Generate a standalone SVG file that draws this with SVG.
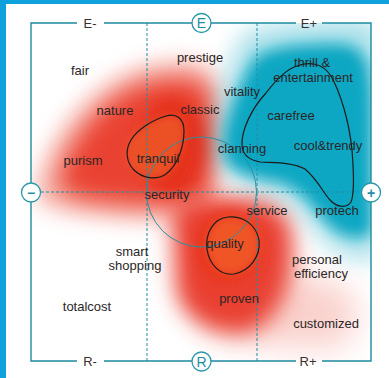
<svg xmlns="http://www.w3.org/2000/svg" width="389" height="378" viewBox="0 0 389 378">
  <style>
    .lbl { font-family: "Liberation Sans", Arial, sans-serif; font-size: 13px; fill: #2b2626; text-anchor: middle; }
    .axis { font-family: "Liberation Sans", Arial, sans-serif; font-size: 13px; fill: #3a2f2f; text-anchor: middle; }
    .frame { stroke: #1d8a9e; stroke-width: 1.4; fill: none; }
    .dash { stroke: #1f8fa6; stroke-width: 1; stroke-dasharray: 3 2; fill: none; }
    .ring { stroke: #2d8f9f; stroke-width: 1; fill: none; }
    .outline { stroke: #1b1b1b; stroke-width: 1.2; fill: none; }
    .badge circle { fill: #ffffff; stroke: #2a98ab; stroke-width: 1.3; }
    .badge text { font-family: "Liberation Sans", Arial, sans-serif; font-size: 14px; fill: #1f8ea4; text-anchor: middle; }
  </style>
  <defs>
    <clipPath id="plot"><rect x="31" y="23" width="340" height="338"/></clipPath>
    <filter id="b16" x="-60%" y="-60%" width="220%" height="220%"><feGaussianBlur stdDeviation="16"/></filter>
    <filter id="b11" x="-60%" y="-60%" width="220%" height="220%"><feGaussianBlur stdDeviation="11"/></filter>
    <filter id="b7" x="-60%" y="-60%" width="220%" height="220%"><feGaussianBlur stdDeviation="7"/></filter>
    <filter id="b4" x="-60%" y="-60%" width="220%" height="220%"><feGaussianBlur stdDeviation="4"/></filter>
  </defs>

  <!-- page and frame band -->
  <rect x="0" y="0" width="389" height="378" fill="#0ea1dc"/>
  <rect x="6" y="4" width="383" height="374" fill="#ffffff"/>

  <!-- density fields -->
  <g id="heat" clip-path="url(#plot)">
    <!-- emotional cluster (red, upper left) -->
    <path d="M36,192 C42,150 78,100 118,78 C150,60 192,56 212,70 C222,96 218,160 214,205 C190,222 150,222 100,216 C62,212 34,206 36,192 Z" fill="#f28c80" opacity="0.7" filter="url(#b11)"/>
    <path d="M60,180 C68,145 96,108 130,90 C160,76 196,76 208,90 C214,116 212,165 208,196 C185,206 150,206 110,202 C78,198 58,194 60,180 Z" fill="#ea4233" filter="url(#b11)"/>
    <ellipse cx="172" cy="146" rx="32" ry="48" fill="#e5301f" filter="url(#b7)"/>
    <!-- rational cluster (red, lower middle) -->
    <path d="M205,270 C235,262 300,268 345,288 C365,305 360,345 330,348 C290,348 230,345 205,325 Z" fill="#f6b2aa" opacity="0.6" filter="url(#b16)"/>
    <path d="M172,215 C176,200 200,196 240,198 C278,200 294,215 293,250 C290,290 280,318 250,332 C215,338 182,320 176,290 Z" fill="#e94030" filter="url(#b11)"/>
    <ellipse cx="228" cy="248" rx="32" ry="36" fill="#e8361f" filter="url(#b7)"/>
    <!-- lifestyle cluster (teal, upper right) -->
    <path d="M212,150 C210,115 228,70 240,38 C258,20 340,18 372,20 L380,30 L380,258 C360,266 335,254 318,236 C302,215 292,200 270,193 C245,186 215,180 212,150 Z" fill="#08a7c3" opacity="0.35" filter="url(#b11)"/>
    <path d="M224,150 C224,120 238,90 250,66 C258,48 290,44 340,44 C368,46 372,66 372,120 L372,232 C360,242 340,238 326,222 C313,207 302,190 282,183 C258,177 226,176 224,150 Z" fill="#08a7c3" filter="url(#b7)"/>
    <!-- inner cores -->
    <path d="M166,116 C176,113 184,118 184,131 C184,146 178,165 166,174 C156,181 142,178 134,170 C126,162 125,150 131,140 C137,130 152,120 166,116 Z" fill="#ec5126" filter="url(#b4)"/>
    <path d="M228,217 C243,216 256,224 259,240 C261,256 250,271 234,274 C220,276 209,264 207,249 C205,233 214,218 228,217 Z" fill="#f05526" filter="url(#b4)"/>
  </g>

  <!-- axes and guides -->
  <g id="connectors">
    <line class="dash" x1="147" y1="23" x2="147" y2="361"/>
    <line class="dash" x1="257" y1="23" x2="257" y2="361"/>
    <line class="dash" x1="31" y1="192" x2="371" y2="192"/>
    <path class="frame" d="M77,23 H31 V361 H77 M104,361 H296 M322,361 H371 V23 H322 M296,23 H104"/>
    <circle class="ring" cx="201.5" cy="192" r="55"/>
    <path class="outline" d="M166,116 C176,113 184,118 184,131 C184,146 178,165 166,174 C156,181 142,178 134,170 C126,162 125,150 131,140 C137,130 152,120 166,116 Z"/>
    <path class="outline" d="M228,217 C243,216 256,224 259,240 C261,256 250,271 234,274 C220,276 209,264 207,249 C205,233 214,218 228,217 Z"/>
    <path class="outline" d="M242,146 C241,130 252,108 266,93 C276,80 286,69 297,66 C308,62 322,62 331,76 C340,92 349,120 352,150 C354,175 354,195 351,202 C347,208 337,208 330,200 C322,191 318,180 305,169 C292,162 275,163 260,162 C249,160 243,155 242,146 Z"/>
  </g>

  <!-- axis end labels -->
  <g id="axis-labels">
    <text class="axis" x="90" y="27.5">E-</text>
    <text class="axis" x="309" y="27.5">E+</text>
    <text class="axis" x="90" y="365.5">R-</text>
    <text class="axis" x="308" y="365.5">R+</text>
  </g>

  <!-- value words -->
  <g id="n-fair"><text class="lbl" x="80" y="74.5">fair</text></g>
  <g id="n-prestige"><text class="lbl" x="200" y="62">prestige</text></g>
  <g id="n-nature"><text class="lbl" x="115" y="114.5">nature</text></g>
  <g id="n-classic"><text class="lbl" x="200" y="113.5">classic</text></g>
  <g id="n-vitality"><text class="lbl" x="242" y="95.5">vitality</text></g>
  <g id="n-thrill"><text class="lbl" x="312" y="67">thrill &amp;</text><text class="lbl" x="313" y="81.5">entertainment</text></g>
  <g id="n-carefree"><text class="lbl" x="291" y="119.5">carefree</text></g>
  <g id="n-cooltrendy"><text class="lbl" x="328" y="149.5">cool&amp;trendy</text></g>
  <g id="n-clanning"><text class="lbl" x="242" y="152.5">clanning</text></g>
  <g id="n-purism"><text class="lbl" x="83" y="164.5">purism</text></g>
  <g id="n-tranquil"><text class="lbl" x="158" y="162.5">tranquil</text></g>
  <g id="n-security"><text class="lbl" x="167" y="198.5">security</text></g>
  <g id="n-service"><text class="lbl" x="267" y="214.5">service</text></g>
  <g id="n-protech"><text class="lbl" x="337" y="214.5">protech</text></g>
  <g id="n-quality"><text class="lbl" x="225" y="247.5">quality</text></g>
  <g id="n-smart"><text class="lbl" x="132" y="255.5">smart</text><text class="lbl" x="135" y="270">shopping</text></g>
  <g id="n-totalcost"><text class="lbl" x="87" y="311">totalcost</text></g>
  <g id="n-personal"><text class="lbl" x="317" y="263.5">personal</text><text class="lbl" x="321" y="278">efficiency</text></g>
  <g id="n-proven"><text class="lbl" x="239" y="302.5">proven</text></g>
  <g id="n-customized"><text class="lbl" x="326" y="327.5">customized</text></g>

  <!-- axis badges -->
  <g id="badge-E" class="badge"><circle cx="201.5" cy="23" r="9.5"/><text x="201.5" y="28">E</text></g>
  <g id="badge-R" class="badge"><circle cx="201.5" cy="361.5" r="9.5"/><text x="201.5" y="366.5">R</text></g>
  <g id="badge-minus" class="badge"><circle cx="31" cy="192.5" r="9.5"/><text x="31" y="197.5" font-weight="bold">−</text></g>
  <g id="badge-plus" class="badge"><circle cx="371" cy="192.5" r="9.5"/><text x="371" y="197.5" font-weight="bold">+</text></g>
</svg>
